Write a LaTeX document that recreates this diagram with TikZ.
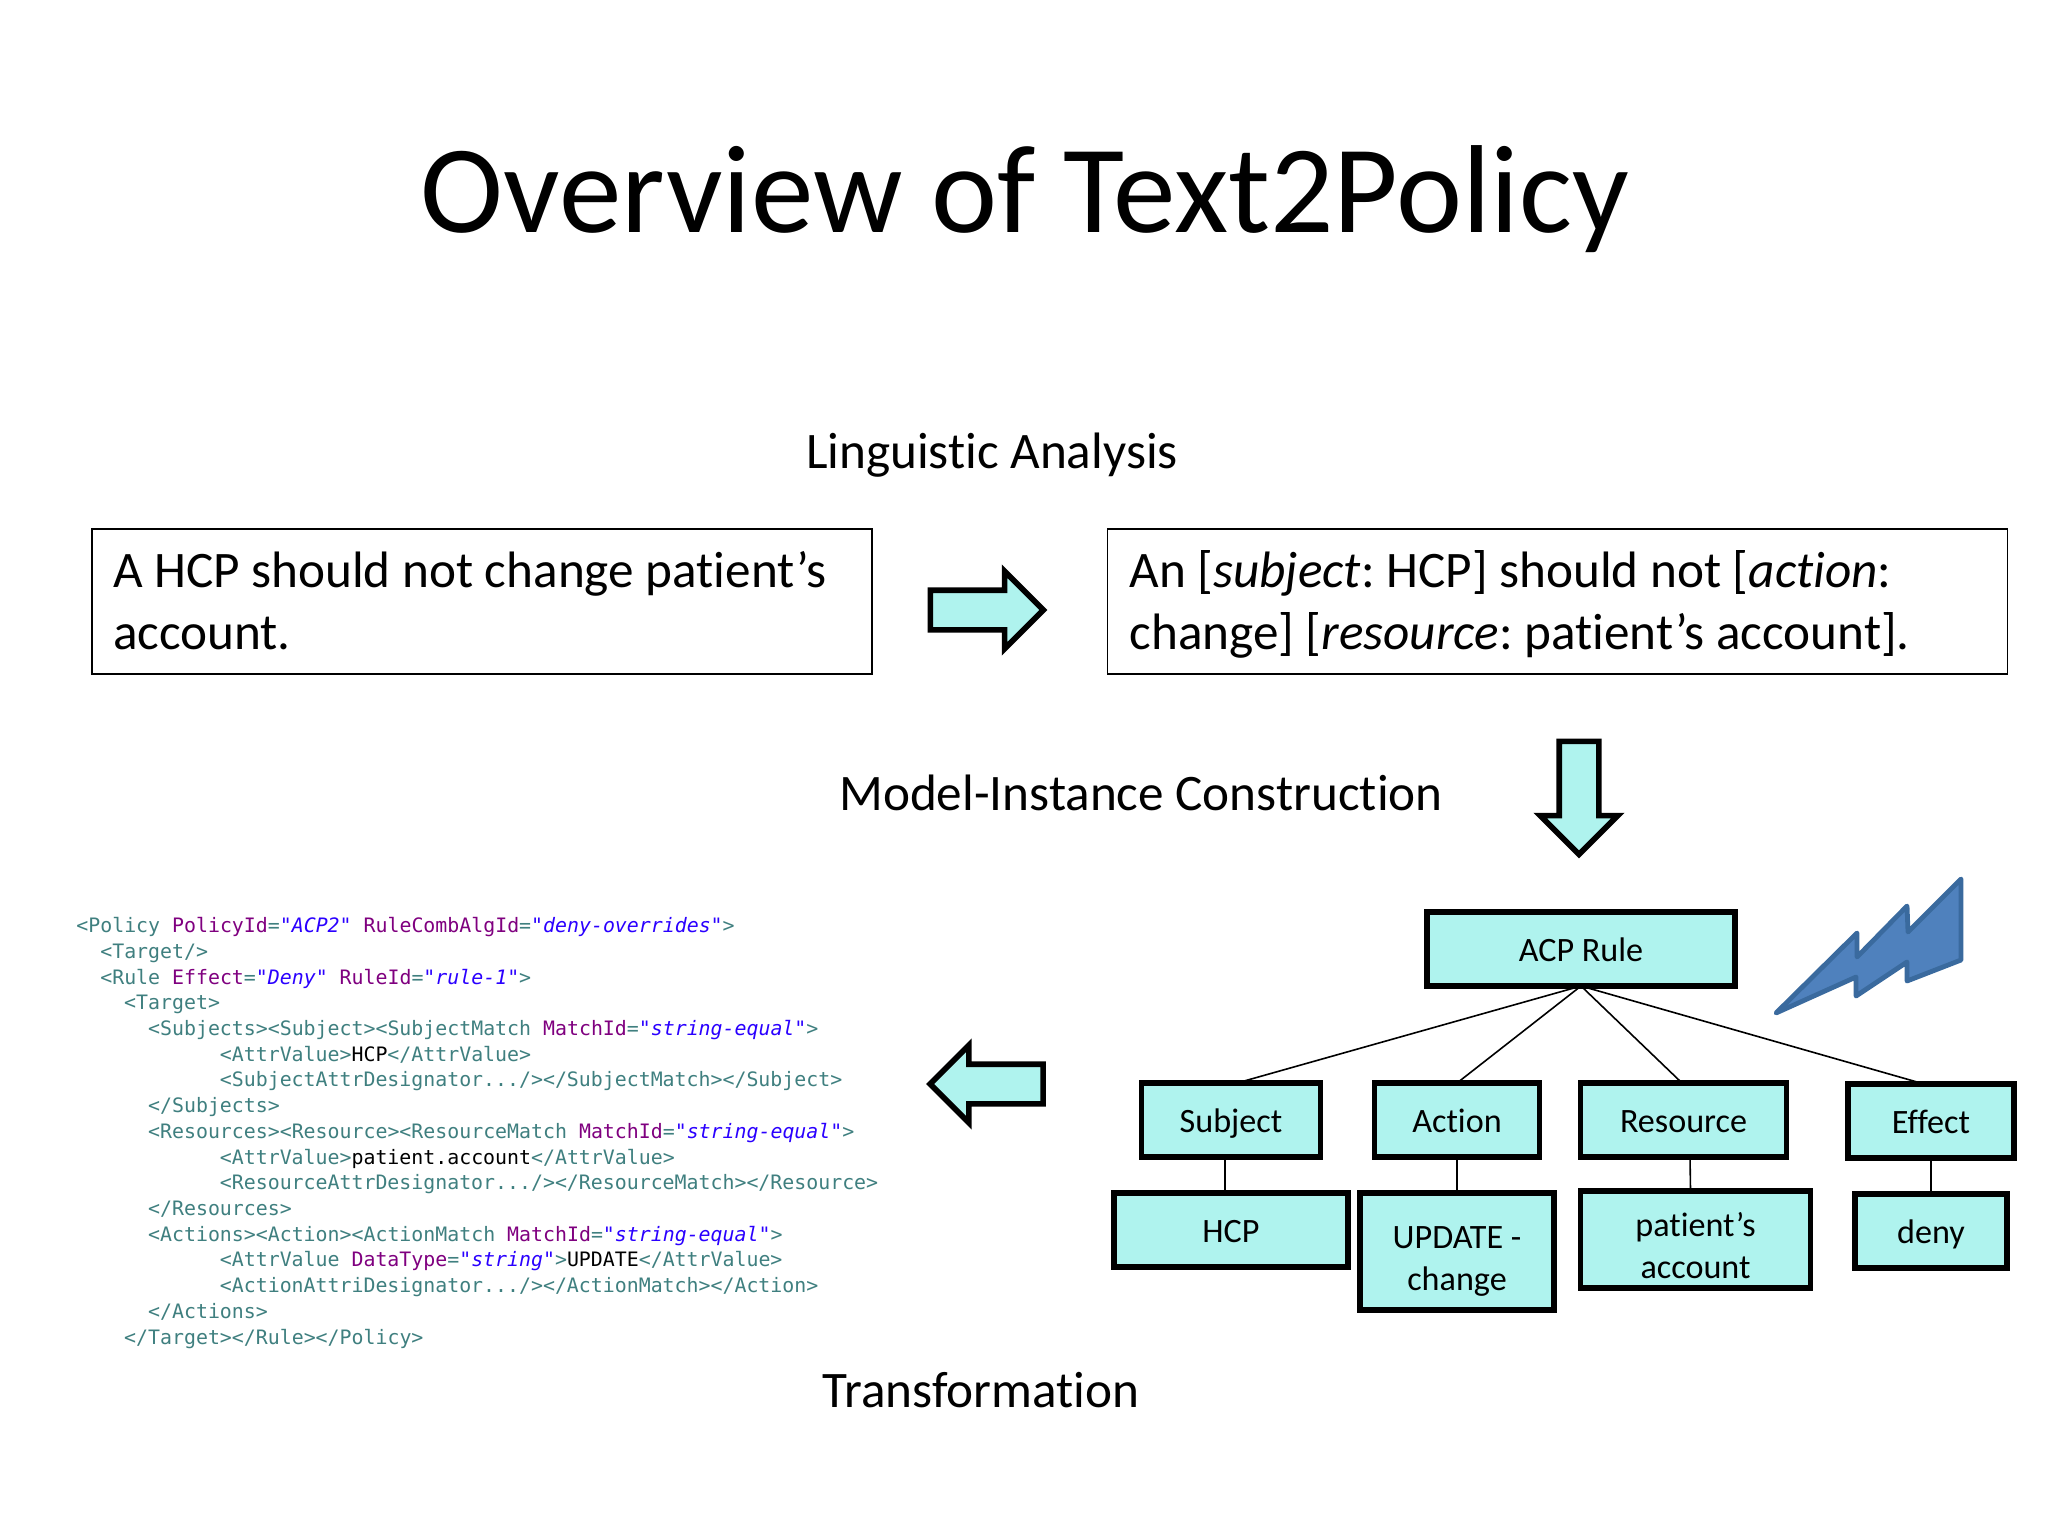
\documentclass[tikz,border=0pt]{standalone}
\usepackage{fontspec}
\setmainfont{Carlito}[Ligatures=NoCommon]
\newfontfamily\xmlfont{DejaVu Sans Mono}
\usetikzlibrary{positioning, shapes.arrows}
\definecolor{boxfill}{HTML}{AFF3EE}
\definecolor{boltfill}{HTML}{4F81BD}
\definecolor{boltline}{HTML}{3A6A9E}
\definecolor{xtagcol}{HTML}{3F7F7F}
\definecolor{xattcol}{HTML}{7F007F}
\definecolor{xvalcol}{HTML}{2A00FF}
\newlength{\xwd}
\setlength{\xwd}{5.98pt}
\newcommand{\xin}[1]{\hspace*{#1\xwd}}
\newcommand{\xt}[1]{\textcolor{xtagcol}{#1}}
\newcommand{\xa}[1]{\textcolor{xattcol}{#1}}
\newcommand{\xv}[1]{\textcolor{xvalcol}{\itshape #1}}
\newcommand{\tbs}{\rule[-5.1pt]{0pt}{27.1pt}}
\newcommand{\nbs}{\rule[-4pt]{0pt}{20.5pt}}
\newcommand{\nbt}{\rule{0pt}{23pt}}
\newcommand{\nbd}{\rule[-5pt]{0pt}{5pt}}
\frenchspacing

\begin{document}
\begin{tikzpicture}[x=0.5pt, y=-0.5pt, node distance=18pt]
    \tikzset{
        heading/.style={font=\fontsize{25.6}{30}\selectfont},
        textbox/.style={draw, line width=0.6pt, outer sep=0pt, inner sep=0pt, minimum height=72.5pt, align=flush left, font=\fontsize{25.6}{30.7}\selectfont},
        treebox/.style={draw=black, fill=boxfill, line width=2.8pt, outer sep=0pt, inner sep=0pt, minimum height=37pt, align=center, font=\fontsize{17.07}{20.7}\selectfont, execute at begin node=\nbs},
        flow/.style={single arrow, draw=black, fill=boxfill, line width=2.8pt, inner sep=8.5pt, outer sep=0pt, minimum height=56.5pt, single arrow head extend=9.5pt, single arrow head indent=0pt},
        treeline/.style={draw, line width=0.8pt}
    }
    \useasboundingbox (0,0) rectangle (2048,1536);

    \node (title) at (1025,199) {\fontsize{62.6}{68}\selectfont Overview of Text2Policy};
    \node[heading] (ling) at (992,455) {Linguistic Analysis};
    \node[heading] (model) at (1141,793) {Model-Instance Construction};
    \node[heading] (transf) at (981,1390) {Transformation};

    \node[textbox, minimum width=390pt, text width=369pt] (sentence) at (482,601.5) {\tbs A HCP should not change patient’s\\\tbs account.};
    \node[textbox, minimum width=450pt, text width=428pt] (tagged) at (1557.5,601.5) {\tbs An [\textit{subject}: HCP] should not [\textit{action}:\\\tbs change] [\textit{resource}: patient’s account].};

    \node[flow] (arrowa) at (977,610) {};
    \node[flow, shape border rotate=270] (arrowb) at (1579,788) {};
    \node[flow, shape border rotate=180] (arrowc) at (996.5,1084) {};

    \node[treebox, minimum width=154pt] (acp) at (1581,949) {ACP Rule};
    \node[treebox, minimum width=89.5pt] (subject) at (1231,1120) {Subject};
    \node[treebox, minimum width=82.5pt] (action) at (1457,1120) {Action};
    \node[treebox, minimum width=103pt] (resource) at (1683.5,1120) {Resource};
    \node[treebox, minimum width=83pt] (effect) at (1931,1121) {Effect};

    \node[treebox, minimum width=117pt, below=of subject] (hcp) {HCP};
    \node[treebox, minimum width=97pt, minimum height=58.5pt, below=of action] (update) {\nbt UPDATE -\\change\nbd};
    \node[treebox, minimum width=115pt, minimum height=48.5pt] (patient) at (1695.5,1239.5) {\nbt patient’s\\account\nbd};
    \node[treebox, minimum width=76pt, below=of effect] (deny) {deny};

    \draw[treeline] (acp.south) -- ([xshift=3pt]subject.north);
    \draw[treeline] (acp.south) -- (action.north);
    \draw[treeline] (acp.south) -- ([xshift=-0.75pt]resource.north);
    \draw[treeline] (acp.south) -- ([xshift=-3.5pt]effect.north);
    \draw[treeline] ([xshift=-3pt]subject.south) -- ([xshift=-3pt]hcp.north);
    \draw[treeline] (action.south) -- (update.north);
    \draw[treeline] ([xshift=3.25pt]resource.south) -- ([xshift=-2.5pt]patient.north);
    \draw[treeline] (effect.south) -- (deny.north);

    \draw[fill=boltfill, draw=boltline, line width=2.4pt, line join=round]
        (1776,1013) -- (1857,933) -- (1857,957) -- (1907,906) -- (1908,932) -- (1961,879)
        -- (1961,960) -- (1907,981) -- (1907,962) -- (1856,996) -- (1856,977) -- cycle;

    \node[anchor=north west, inner sep=0pt, align=left, text=black,
          font=\xmlfont\fontsize{9.94}{12.86}\selectfont] (xml) at (76,917) {%
        \xt{<Policy} \xa{PolicyId}\xt{=}\xv{"ACP2"} \xa{RuleCombAlgId}\xt{=}\xv{"deny-overrides"}\xt{>}\\
        \xin{2}\xt{<Target/>}\\
        \xin{2}\xt{<Rule} \xa{Effect}\xt{=}\xv{"Deny"} \xa{RuleId}\xt{=}\xv{"rule-1"}\xt{>}\\
        \xin{4}\xt{<Target>}\\
        \xin{6}\xt{<Subjects><Subject><SubjectMatch} \xa{MatchId}\xt{=}\xv{"string-equal"}\xt{>}\\
        \xin{12}\xt{<AttrValue>}HCP\xt{</AttrValue>}\\
        \xin{12}\xt{<SubjectAttrDesignator.../></SubjectMatch></Subject>}\\
        \xin{6}\xt{</Subjects>}\\
        \xin{6}\xt{<Resources><Resource><ResourceMatch} \xa{MatchId}\xt{=}\xv{"string-equal"}\xt{>}\\
        \xin{12}\xt{<AttrValue>}patient.account\xt{</AttrValue>}\\
        \xin{12}\xt{<ResourceAttrDesignator.../></ResourceMatch></Resource>}\\
        \xin{6}\xt{</Resources>}\\
        \xin{6}\xt{<Actions><Action><ActionMatch} \xa{MatchId}\xt{=}\xv{"string-equal"}\xt{>}\\
        \xin{12}\xt{<AttrValue} \xa{DataType}\xt{=}\xv{"string"}\xt{>}UPDATE\xt{</AttrValue>}\\
        \xin{12}\xt{<ActionAttriDesignator.../></ActionMatch></Action>}\\
        \xin{6}\xt{</Actions>}\\
        \xin{4}\xt{</Target></Rule></Policy>}};
\end{tikzpicture}
\end{document}
